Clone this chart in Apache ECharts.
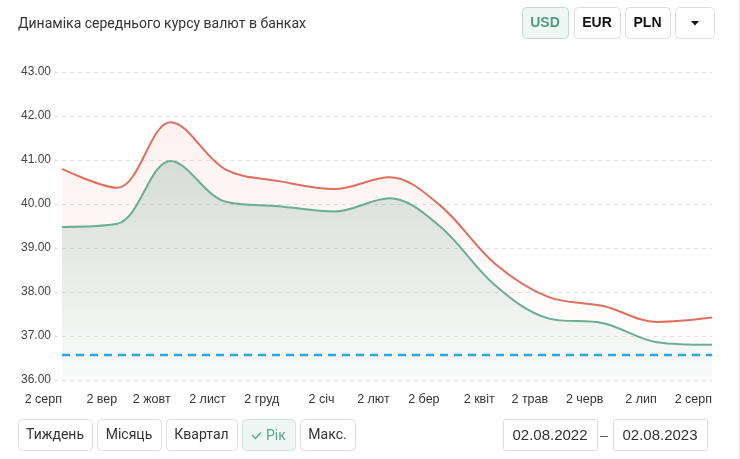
<!DOCTYPE html>
<html>
<head>
<meta charset="utf-8">
<script src="https://cdn.jsdelivr.net/npm/echarts@6/dist/echarts.min.js"></script>
<style>
  html, body { margin: 0; padding: 0; background: #fff; }
  #chart { width: 740px; height: 459px; }
</style>
</head>
<body>
<div id="chart"></div>
<script>
// курси по місяцях (читано з картинки)
const dates = ['2022-08-02', '2022-09-02', '2022-10-02', '2022-11-02', '2022-12-02', '2023-01-02', '2023-02-02',
  '2023-03-02', '2023-04-02', '2023-05-02', '2023-06-02', '2023-07-02', '2023-08-02'];
const monthLabels = ['2 серп', '2 вер', '2 жовт', '2 лист', '2 груд', '2 січ', '2 лют',
  '2 бер', '2 квіт', '2 трав', '2 черв', '2 лип', '2 серп'];
const sellRate = [40.80, 40.37, 41.86, 40.78, 40.52, 40.34, 40.61, 39.98, 38.65, 37.89, 37.68, 37.32, 37.42];
const buyRate = [39.48, 39.55, 40.98, 40.05, 39.95, 39.83, 40.13, 39.50, 38.16, 37.40, 37.29, 36.86, 36.80];
const nbuRate = 36.57;
const periodButtons = ['Тиждень', 'Місяць', 'Квартал', 'Рік', 'Макс.'];
const currencyButtons = ['USD', 'EUR', 'PLN'];
const dateFrom = '02.08.2022';
const dateTo = '02.08.2023';

// дні від початку періоду
const DAY = 86400000;
const t0 = Date.parse(dates[0]);
const days = dates.map(d => Math.round((Date.parse(d) - t0) / DAY));
const labelByDay = {};
days.forEach((d, i) => { labelByDay[d] = monthLabels[i]; });

const txtFont = 'Roboto, "Liberation Sans", Arial, sans-serif';
const axisFont = '"Liberation Sans", Arial, sans-serif';

function button(x, y, w, h, text, active, bold) {
  return [
    {
      type: 'rect',
      shape: { x: x + 0.5, y: y + 0.5, width: w, height: h, r: 4 },
      style: { fill: active ? '#eef7f3' : '#fff', stroke: active ? '#bfdccf' : '#dedede', lineWidth: 1 }
    },
    {
      type: 'text',
      style: {
        text: text, x: x + w / 2, y: y + h / 2 + 1,
        align: 'center', verticalAlign: 'middle', textAlign: 'center', textVerticalAlign: 'middle',
        font: (bold ? 'bold ' : '') + '14px ' + (bold ? axisFont : txtFont),
        fill: active ? '#4f9d7c' : (bold ? '#111' : '#333')
      }
    }
  ];
}

const graphics = [];
// верхні кнопки валют
const topX = [522, 574, 625];
const topW = [46, 46, 45];
currencyButtons.forEach((c, i) => graphics.push(...button(topX[i], 7, topW[i], 31, c, i === 0, true)));
graphics.push(...button(675, 7, 39, 31, '', false, false));
graphics.push({ type: 'polygon', shape: { points: [[691, 21], [699, 21], [695, 25.5]] }, style: { fill: '#111' } });

// нижні кнопки періодів
const botX = [18, 97, 166, 242, 300];
const botW = [74, 64, 71, 53, 55];
periodButtons.forEach((p, i) => {
  if (p === 'Рік') {
    graphics.push({
      type: 'rect',
      shape: { x: botX[i] + 0.5, y: 419.5, width: botW[i], height: 31, r: 4 },
      style: { fill: '#eef7f3', stroke: '#cfe5db', lineWidth: 1 }
    });
    graphics.push({
      type: 'polyline',
      shape: { points: [[252, 435], [255.5, 438.5], [261, 432.5]] },
      style: { stroke: '#5aa886', lineWidth: 1.3, fill: null }
    });
    graphics.push({
      type: 'text',
      style: { text: p, x: 266, y: 436, align: 'left', verticalAlign: 'middle', textVerticalAlign: 'middle',
        font: '14px ' + txtFont, fill: '#5aa886' }
    });
  } else {
    graphics.push(...button(botX[i], 419, botW[i], 31, p, false, false));
  }
});

// поля дат
[[503, dateFrom], [613, dateTo]].forEach(([x, t]) => {
  graphics.push({
    type: 'rect',
    shape: { x: x + 0.5, y: 419.5, width: 94, height: 31, r: 2 },
    style: { fill: '#fff', stroke: '#dcdcdc', lineWidth: 1 }
  });
  graphics.push({
    type: 'text',
    style: { text: t, x: x + 47, y: 436, align: 'center', verticalAlign: 'middle', textAlign: 'center',
      textVerticalAlign: 'middle', font: '15px ' + axisFont, fill: '#333' }
  });
});
graphics.push({
  type: 'text',
  style: { text: '–', x: 604, y: 436, align: 'center', verticalAlign: 'middle', textAlign: 'center',
    textVerticalAlign: 'middle', font: '14px ' + axisFont, fill: '#555' }
});
// права межа
graphics.push({ type: 'line', shape: { x1: 739.5, y1: 0, x2: 739.5, y2: 459 }, style: { stroke: '#e8e8e8', lineWidth: 1 } });

const chart = echarts.init(document.getElementById('chart'));
chart.setOption({
  animation: false,
  title: {
    text: 'Динаміка середнього курсу валют в банках',
    left: 13, top: 12,
    textStyle: { fontSize: 14, fontWeight: 'normal', color: '#333', fontFamily: txtFont }
  },
  grid: { left: 54, right: 28, top: 72, bottom: 79 },
  xAxis: {
    type: 'value',
    min: -4.5,
    max: days[days.length - 1],
    axisLine: { show: false },
    axisTick: { show: false },
    splitLine: { show: false },
    axisLabel: {
      customValues: days,
      formatter: v => labelByDay[v] || '',
      align: 'right',
      alignMinLabel: 'right',
      alignMaxLabel: 'right',
      margin: 13,
      color: '#333',
      fontSize: 12.5,
      fontFamily: axisFont,
      hideOverlap: false
    }
  },
  yAxis: {
    type: 'value',
    min: 36, max: 43, interval: 1,
    axisLine: { show: false },
    axisTick: { show: false },
    axisLabel: { formatter: v => v.toFixed(2), color: '#444', fontSize: 12, fontFamily: axisFont, margin: 3 },
    splitLine: { lineStyle: { color: '#e2e2e2', type: [4, 4], width: 1 } }
  },
  series: [
    {
      name: 'Продаж',
      type: 'line',
      smooth: 0.35,
      showSymbol: false,
      data: days.map((d, i) => [d, sellRate[i]]),
      lineStyle: { color: '#df6f5c', width: 2 },
      areaStyle: {
        color: new echarts.graphic.LinearGradient(0, 0, 0, 1, [
          { offset: 0, color: 'rgba(225,110,92,0.13)' },
          { offset: 1, color: 'rgba(225,110,92,0.0)' }
        ])
      },
      z: 2
    },
    {
      name: 'Купівля',
      type: 'line',
      smooth: 0.35,
      showSymbol: false,
      data: days.map((d, i) => [d, buyRate[i]]),
      lineStyle: { color: '#6aae93', width: 2 },
      areaStyle: {
        color: new echarts.graphic.LinearGradient(0, 0, 0, 1, [
          { offset: 0, color: 'rgba(75,140,110,0.22)' },
          { offset: 1, color: 'rgba(75,140,110,0.03)' }
        ]),
        opacity: 1
      },
      z: 3
    },
    {
      name: 'НБУ',
      type: 'line',
      showSymbol: false,
      clip: true,
      data: days.map(d => [d, nbuRate]),
      lineStyle: { color: '#2ba8e0', width: 2.5, type: [8, 6] },
      z: 4
    }
  ],
  graphic: graphics
});
</script>
</body>
</html>
